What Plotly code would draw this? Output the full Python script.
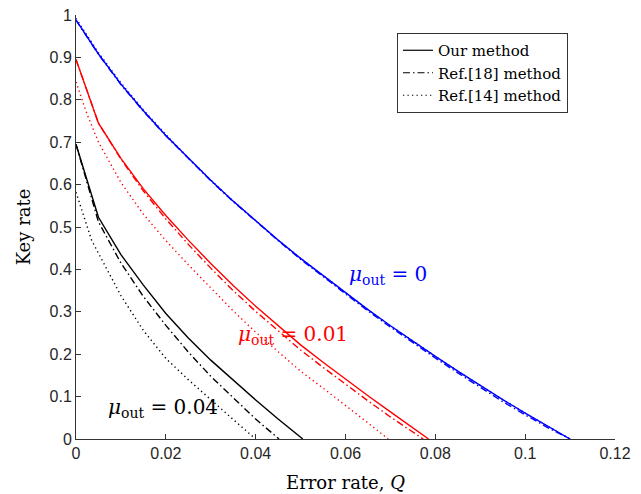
import plotly.graph_objects as go

# ---- data ----
q_grid = [0, 0.005, 0.01, 0.015, 0.02, 0.025, 0.03, 0.035, 0.04, 0.045, 0.05,
          0.055, 0.06, 0.065, 0.07, 0.075, 0.08, 0.085, 0.09, 0.095, 0.1, 0.105, 0.11]

# mu_out = 0 (blue)
blue_our = [0.988, 0.908, 0.837, 0.774, 0.716, 0.662, 0.610, 0.561, 0.514, 0.469, 0.426,
            0.385, 0.344, 0.305, 0.267, 0.230, 0.195, 0.160, 0.126, 0.093, 0.061, 0.030, 0.0]
blue_ref18 = [0.988, 0.907, 0.836, 0.773, 0.715, 0.661, 0.609, 0.560, 0.513, 0.468, 0.424,
              0.383, 0.342, 0.302, 0.264, 0.227, 0.191, 0.156, 0.121, 0.088, 0.057, 0.027, 0.0]
blue_ref14 = [0.992, 0.911, 0.840, 0.776, 0.718, 0.663, 0.611, 0.561, 0.515, 0.469, 0.426,
              0.385, 0.344, 0.305, 0.267, 0.230, 0.195, 0.160, 0.126, 0.093, 0.061, 0.030, 0.0]

# mu_out = 0.01 (red)
red_q = [0, 0.005, 0.01, 0.015, 0.02, 0.025, 0.03, 0.035, 0.04, 0.045, 0.05, 0.055,
         0.06, 0.065, 0.07, 0.075]
red_our = [0.895, 0.745, 0.662, 0.590, 0.527, 0.469, 0.414, 0.362, 0.313, 0.268, 0.222,
           0.181, 0.141, 0.102, 0.064, 0.027]
red_our_end = 0.0785
red_ref18 = [0.895, 0.745, 0.660, 0.585, 0.519, 0.459, 0.403, 0.350, 0.301, 0.255, 0.210,
             0.169, 0.129, 0.090, 0.052, 0.016]
red_ref18_end = 0.0773
red14_q = [0, 0.0025, 0.005, 0.01, 0.015, 0.02, 0.025, 0.03, 0.035, 0.04, 0.045, 0.05,
           0.055, 0.06, 0.065]
red_ref14 = [0.842, 0.765, 0.700, 0.605, 0.530, 0.468, 0.411, 0.356, 0.302, 0.252, 0.205,
             0.160, 0.120, 0.080, 0.038]
red_ref14_end = 0.0695

# mu_out = 0.04 (black)
blk_q = [0, 0.005, 0.01, 0.015, 0.02, 0.025, 0.03, 0.035, 0.04, 0.045]
blk_our = [0.695, 0.523, 0.435, 0.363, 0.296, 0.238, 0.186, 0.138, 0.092, 0.047]
blk_our_end = 0.0505
blk_ref18 = [0.695, 0.512, 0.415, 0.336, 0.268, 0.205, 0.148, 0.098, 0.047]
blk_ref18_end = 0.0452
blk14_q = [0, 0.0035, 0.005, 0.01, 0.015, 0.02, 0.025, 0.03, 0.035]
blk_ref14 = [0.582, 0.468, 0.438, 0.338, 0.256, 0.190, 0.140, 0.092, 0.046]
blk_ref14_end = 0.040

x_ticks = [0, 0.02, 0.04, 0.06, 0.08, 0.1, 0.12]
y_ticks = [0, 0.1, 0.2, 0.3, 0.4, 0.5, 0.6, 0.7, 0.8, 0.9, 1]

method_names = ["Our method", "Ref.[18] method", "Ref.[14] method"]
DASHDOT = "7px,3px,1.5px,3px"
DOT = "1.3px,3.2px"
dashes = ["solid", DASHDOT, DOT]

SERIF = "DejaVu Serif"
LW = 1.4

fig = go.Figure()

def add(xs, ys, color, dash):
    fig.add_trace(go.Scatter(x=xs, y=ys, mode="lines", showlegend=False,
                             line=dict(color=color, width=LW, dash=dash),
                             hoverinfo="skip", cliponaxis=False))

# blue
add(q_grid, blue_our, "#0000ff", "solid")
add(q_grid, blue_ref18, "#0000ff", DASHDOT)
add(q_grid, blue_ref14, "#0000ff", DOT)
# red
add(red_q + [red_our_end], red_our + [0], "#ff0000", "solid")
add(red_q + [red_ref18_end], red_ref18 + [0], "#ff0000", DASHDOT)
add(red14_q + [red_ref14_end], red_ref14 + [0], "#ff0000", DOT)
# black
add(blk_q + [blk_our_end], blk_our + [0], "#000000", "solid")
add(blk_q[:9] + [blk_ref18_end], blk_ref18 + [0], "#000000", DASHDOT)
add(blk14_q + [blk_ref14_end], blk_ref14 + [0], "#000000", DOT)

# legend entries (black samples)
for name, d in zip(method_names, dashes):
    fig.add_trace(go.Scatter(x=[None], y=[None], mode="lines", name=name,
                             line=dict(color="#000000", width=1.2, dash=d)))

fig.update_layout(
    width=641, height=494,
    margin=dict(l=76, r=26, t=15, b=55, autoexpand=False),
    plot_bgcolor="white", paper_bgcolor="white",
    font=dict(family="Liberation Sans", size=16, color="#262626"),
    showlegend=True,
    legend=dict(x=0.5955, y=0.9575, xanchor="left", yanchor="top",
                bgcolor="white", bordercolor="#333333", borderwidth=1,
                font=dict(family=SERIF, size=15, color="#000000"),
                tracegroupgap=0, itemwidth=30),
    xaxis=dict(range=[0, 0.12], tickvals=x_ticks, ticks="inside", ticklen=5,
               tickcolor="#333333", showline=True, linecolor="#333333", linewidth=1,
               showgrid=False, zeroline=False, mirror=False, automargin=False,
               title=dict(text="Error rate, <i>Q</i>", font=dict(family=SERIF, size=18,
                          color="#000000"), standoff=15)),
    yaxis=dict(range=[0, 1], tickvals=y_ticks, ticks="inside", ticklen=5,
               tickcolor="#333333", showline=True, linecolor="#333333", linewidth=1,
               showgrid=False, zeroline=False, mirror=False, automargin=False,
               title=dict(text="Key rate", font=dict(family=SERIF, size=18,
                          color="#000000"), standoff=14)),
)

labels = [
    (0.0695, 0.387, "<i>μ</i><sub>out</sub> = 0", "#0000ff"),
    (0.0483, 0.246, "<i>μ</i><sub>out</sub> = 0.01", "#ff0000"),
    (0.0194, 0.073, "<i>μ</i><sub>out</sub> = 0.04", "#000000"),
]
for x, y, t, c in labels:
    fig.add_annotation(x=x, y=y, xref="x", yref="y", text=t, showarrow=False,
                       xanchor="center", yanchor="middle",
                       font=dict(family=SERIF, size=20, color=c))

fig.write_html("out.html", config={"displayModeBar": False},
               post_script="document.body.style.margin='0';")
